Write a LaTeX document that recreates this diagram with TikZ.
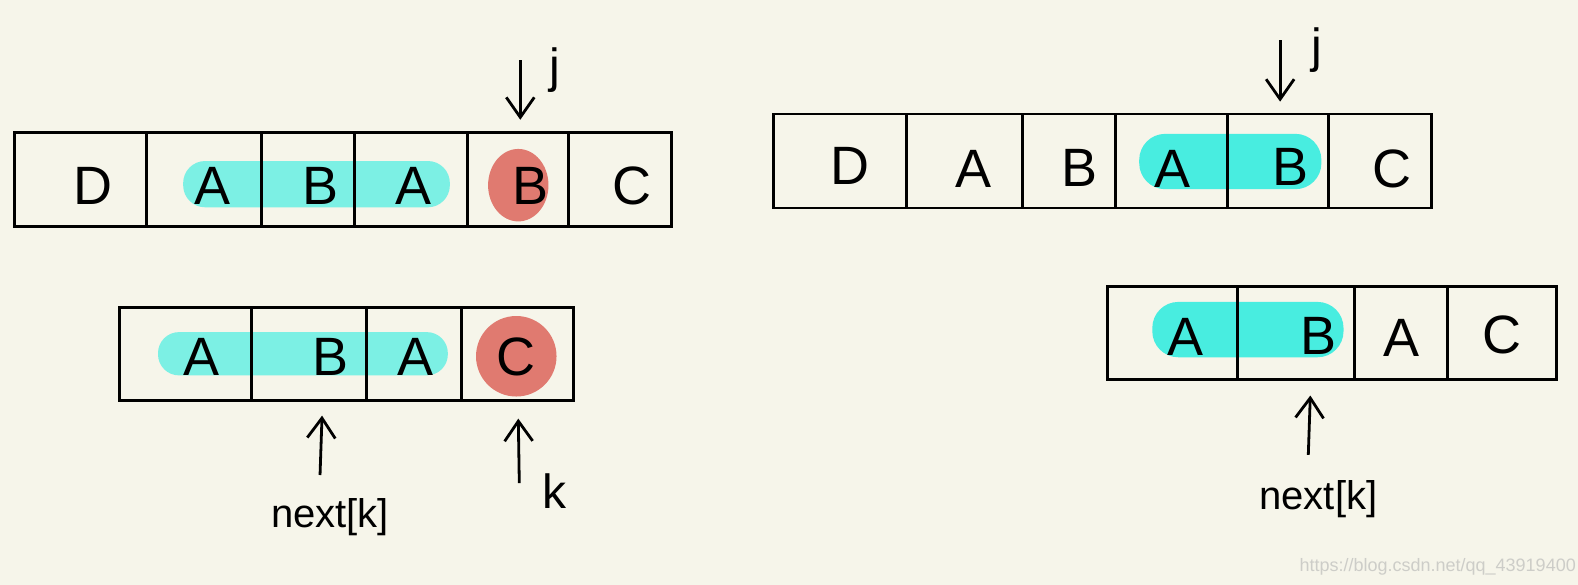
\documentclass[tikz,border=0pt]{standalone}
\usepackage{fontspec}
\setmainfont{Liberation Sans}
\usetikzlibrary{
    arrows.meta,
    positioning
}
\definecolor{paper}{RGB}{246,245,234}
\definecolor{hlcyan}{RGB}{124,240,228}
\definecolor{hlteal}{RGB}{72,237,224}
\definecolor{hlred}{RGB}{224,122,112}
\definecolor{mark}{RGB}{205,205,200}
\pgfdeclarelayer{under}
\pgfsetlayers{under,main}

\begin{document}
\begin{tikzpicture}[
  x=1.0064pt, y=-1.0064pt,
  cell/.style={rectangle,draw,line width=2.8pt,outer sep=0pt,inner sep=0pt,
    minimum height=94pt},
  glyph/.style={inner sep=0pt,font=\fontsize{54}{54}\selectfont},
  tag/.style={inner sep=0pt,font=\fontsize{40}{40}\selectfont},
  idx/.style={inner sep=0pt,font=\fontsize{48}{48}\selectfont},
  ptr/.style={-{Straight Barb[length=20pt,width=28pt]},line width=2.8pt}
]
\useasboundingbox (0,0) rectangle (1568,581);

% top left: text
\node[cell,minimum width=132pt] (a1) at (80,178) {};
\node[cell,minimum width=115pt,right=0pt of a1] (a2) {};
\node[cell,minimum width=93pt,right=0pt of a2] (a3) {};
\node[cell,minimum width=113pt,right=0pt of a3] (a4) {};
\node[cell,minimum width=101pt,right=0pt of a4] (a5) {};
\node[cell,minimum width=103pt,right=0pt of a5] (a6) {};
\node[glyph] (ta1) at (92,185) {D};
\node[glyph] (ta2) at (211,185) {A};
\node[glyph] (ta3) at (318,185) {B};
\node[glyph] (ta4) at (411,185) {A};
\node[glyph] (ta5) at (527,185) {B};
\node[glyph] (ta6) at (628,185) {C};

% bottom left: pattern
\node[cell,minimum width=132pt,minimum height=93pt] (b1) at (184,351.5) {};
\node[cell,minimum width=115pt,minimum height=93pt,right=0pt of b1] (b2) {};
\node[cell,minimum width=95pt,minimum height=93pt,right=0pt of b2] (b3) {};
\node[cell,minimum width=112pt,minimum height=93pt,right=0pt of b3] (b4) {};
\node[glyph] (tb1) at (200,355) {A};
\node[glyph] (tb2) at (328,355) {B};
\node[glyph] (tb3) at (413,355) {A};
\node[glyph] (tb4) at (513,355) {C};

% top right: text
\node[cell,minimum width=133pt] (c1) at (834.5,160) {};
\node[cell,minimum width=116pt,right=0pt of c1] (c2) {};
\node[cell,minimum width=93pt,right=0pt of c2] (c3) {};
\node[cell,minimum width=112pt,right=0pt of c3] (c4) {};
\node[cell,minimum width=101pt,right=0pt of c4] (c5) {};
\node[cell,minimum width=103pt,right=0pt of c5] (c6) {};
\node[glyph] (tc1) at (845,165) {D};
\node[glyph] (tc2) at (967,168) {A};
\node[glyph] (tc3) at (1073,167) {B};
\node[glyph] (tc4) at (1165,168) {A};
\node[glyph] (tc5) at (1282,166) {B};
\node[glyph] (tc6) at (1383,168) {C};

% bottom right: shifted pattern
\node[cell,minimum width=130pt,minimum height=93pt] (d1) at (1165,330.5) {};
\node[cell,minimum width=117pt,minimum height=93pt,right=0pt of d1] (d2) {};
\node[cell,minimum width=93pt,minimum height=93pt,right=0pt of d2] (d3) {};
\node[cell,minimum width=109pt,minimum height=93pt,right=0pt of d3] (d4) {};
\node[glyph] (td1) at (1178,335) {A};
\node[glyph] (td2) at (1310,334) {B};
\node[glyph] (td3) at (1393,336) {A};
\node[glyph] (td4) at (1492,333) {C};

% pointers
\node[idx] (j1) at (551,70) {j};
\coordinate (j1from) at (517,60);
\coordinate (j1to) at (517,119);
\draw[ptr] (j1from) -- (j1to);

\node[idx] (j2) at (1308,50) {j};
\coordinate (j2from) at (1272,40);
\coordinate (j2to) at (1272,101);
\draw[ptr] (j2from) -- (j2to);

\node[tag] (nk1) at (328,514) {next[k]};
\coordinate (nk1from) at (318,472);
\coordinate (nk1to) at (320,413);
\draw[ptr] (nk1from) -- (nk1to);

\node[idx] (k1) at (551,488) {k};
\coordinate (k1from) at (516,480);
\coordinate (k1to) at (515,416);
\draw[ptr] (k1from) -- (k1to);

\node[tag] (nk2) at (1310,496) {next[k]};
\coordinate (nk2from) at (1300,452);
\coordinate (nk2to) at (1302,393);
\draw[ptr] (nk2from) -- (nk2to);

\node[inner sep=0pt,anchor=east,text=mark,font=\fontsize{18}{18}\selectfont]
  (url) at (1566,563) {https://blog.csdn.net/qq\_43919400};

% highlights
\begin{pgfonlayer}{under}
\fill[paper] (0,0) rectangle (1568,581);
\fill[hlcyan,rounded corners=22pt] (182,160) rectangle (447,206);
\fill[hlred] (515,184) ellipse [x radius=30, y radius=36];
\fill[hlcyan,rounded corners=21pt] (157,330) rectangle (445,373);
\fill[hlred] (513,354) circle [radius=40];
\fill[hlteal,rounded corners=26pt] (1132,133) rectangle (1313,188);
\fill[hlteal,rounded corners=26pt] (1145,300) rectangle (1335,355);
\end{pgfonlayer}
\end{tikzpicture}
\end{document}
